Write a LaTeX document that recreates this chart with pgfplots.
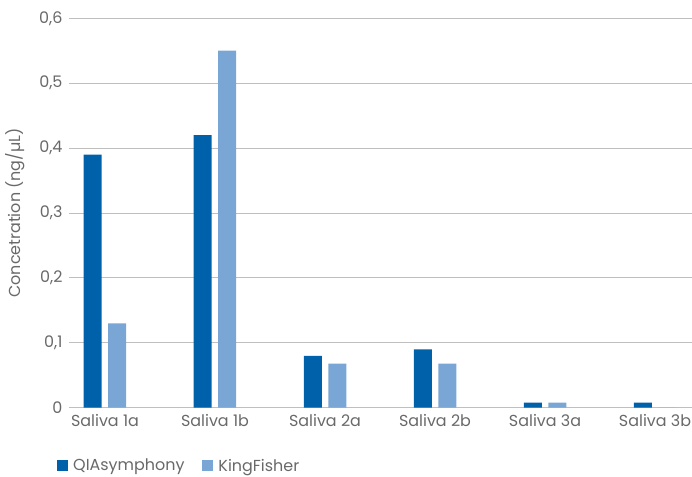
\documentclass[border=0pt]{standalone}
\usepackage{fontspec}
\setmainfont{Poppins}
\usepackage{pgfplots}
\pgfplotsset{compat=1.18}
\definecolor{qdark}{RGB}{0,97,171}
\definecolor{qlight}{RGB}{122,166,213}
\definecolor{txt}{RGB}{105,105,105}
\definecolor{grid}{RGB}{217,217,217}
\begin{document}
\begin{tikzpicture}
\path[use as bounding box] (-69bp,-69.3bp) rectangle (623bp,407.7bp);
\begin{axis}[
  at={(0,0)}, anchor=south west,
  scale only axis, width=623bp, height=389.4bp,
  ybar=6.5bp, bar width=18bp,
  xmin=-0.327, xmax=5.336,
  ymin=0, ymax=0.6,
  xtick={0,1,2,3,4,5},
  xticklabels={Saliva 1a,Saliva 1b,Saliva 2a,Saliva 2b,Saliva 3a,Saliva 3b},
  ytick={0,0.1,0.2,0.3,0.4,0.5,0.6},
  /pgf/number format/assume math mode=true,
  /pgf/number format/use comma,
  /pgf/number format/fixed,
  /pgf/number format/precision=1,
  xmajorgrids=false,
  ymajorgrids=true, grid style={grid, line width=1bp},
  axis line style={draw=none},
  axis x line*=bottom,
  x axis line style={grid, line width=1bp},
  major tick length=0pt,
  xtick style={draw=none}, ytick style={draw=none},
  tick label style={font=\fontsize{16}{18}\selectfont, text=txt},
  yticklabel style={xshift=-3bp},
  xticklabel style={yshift=-3bp},
  ylabel={Concetration (ng/µL)},
  every axis y label/.style={at={(-54bp,194.7bp)}, rotate=90, anchor=center,
    font=\fontsize{16}{18}\selectfont, text=txt},
  legend columns=2,
  legend style={at={(-12bp,-58bp)}, anchor=west, draw=none, inner sep=0pt,
    font=\fontsize{16}{18}\selectfont, text=txt,
    /tikz/every odd column/.append style={column sep=3bp},
    /tikz/every even column/.append style={column sep=16bp}},
  legend image code/.code={\fill[#1] (0bp,-5.5bp) rectangle (11bp,5.5bp);},
]
\addplot[fill=qdark, draw=none] coordinates {(0,0.39) (1,0.42) (2,0.08) (3,0.09) (4,0.008) (5,0.008)};
\addplot[fill=qlight, draw=none] coordinates {(0,0.13) (1,0.55) (2,0.068) (3,0.068) (4,0.008) (5,0)};
\legend{QIAsymphony, KingFisher}
\end{axis}
\end{tikzpicture}
\end{document}
